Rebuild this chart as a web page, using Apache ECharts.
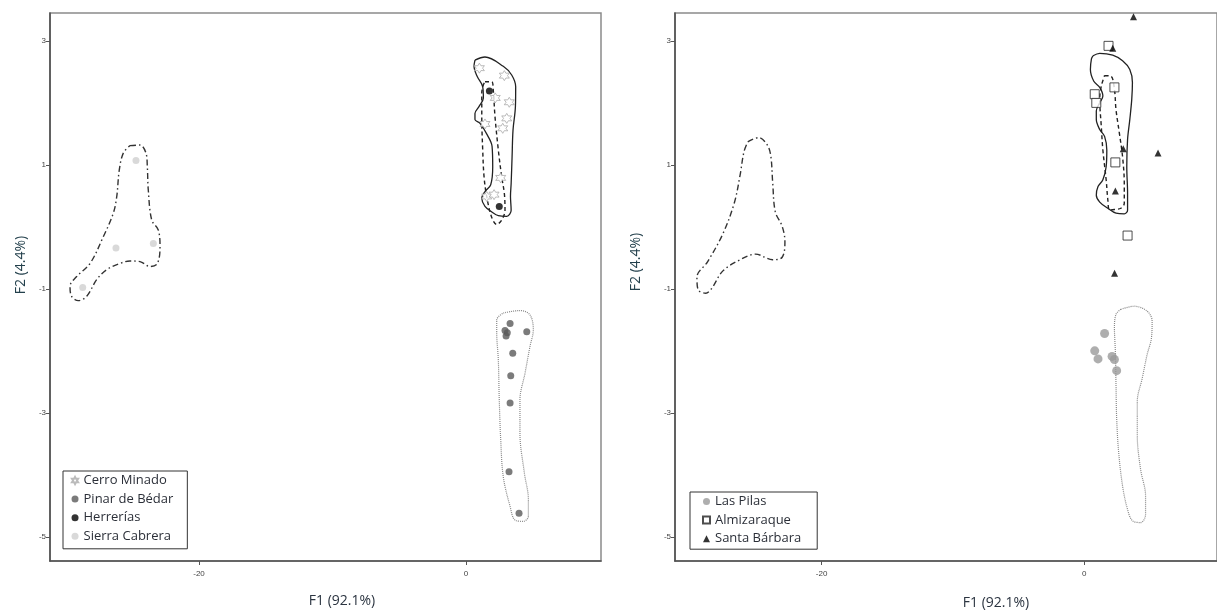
<!DOCTYPE html>
<html>
<head>
<meta charset="utf-8">
<script src="https://cdn.jsdelivr.net/npm/echarts@6/dist/echarts.min.js"></script>
<style>html,body{margin:0;padding:0;background:#fff;}#c{width:1217px;height:615px;}</style>
</head>
<body>
<div id="c"></div>
<script>
// ---- Tick labels ----
const xTicks = [-20, 0];
const yTicks = [-5, -3, -1, 1, 3];

// ---- Left panel groups (F1, F2) ----
const cerroMinado = [[1.0,2.56],[2.87,2.44],[2.19,2.08],[3.24,2.01],[3.05,1.75],[1.42,1.66],[2.75,1.59],[2.6,0.79],[1.55,0.49],[2.1,0.52]];
const pinarDeBedar = [[3.30,-1.56],[2.92,-1.67],[3.09,-1.71],[3.0,-1.76],[4.55,-1.69],[3.50,-2.04],[3.35,-2.40],[3.30,-2.84],[3.22,-3.95],[3.97,-4.62]];
const herrerias = [[1.75,2.19],[2.49,0.33]];
const sierraCabrera = [[-24.72,1.07],[-26.22,-0.34],[-23.42,-0.27],[-28.71,-0.98]];

// ---- Right panel groups ----
const lasPilas = [[1.55,-1.72],[0.80,-2.00],[1.05,-2.13],[2.12,-2.09],[2.30,-2.14],[2.47,-2.32]];
const almizaraque = [[1.85,2.92],[2.30,2.25],[0.80,2.14],[0.92,2.00],[2.37,1.04],[3.30,-0.14]];
const santaBarbara = [[3.75,3.39],[2.17,2.88],[2.97,1.26],[5.62,1.19],[2.37,0.58],[2.31,-0.75]];

// ---- Group outlines (data units) ----
const leftCerroOutline = [[0.67,2.69],[1.42,2.74],[2.79,2.59],[3.42,2.45],[3.72,2.26],[3.70,1.94],[3.52,1.56],[3.45,1.13],[3.38,0.70],[3.33,0.49],[3.38,0.27],[3.05,0.17],[2.42,0.18],[1.93,0.24],[1.42,0.33],[1.18,0.46],[1.42,0.57],[1.85,0.68],[2.0,0.97],[1.95,1.30],[1.60,1.48],[1.05,1.67],[0.67,1.73],[0.67,1.83],[0.97,1.94],[1.30,2.08],[1.25,2.26],[0.85,2.42],[0.60,2.59],[0.67,2.69]];
const leftHerreriasOutline = [[1.42,2.34],[1.93,2.34],[2.04,2.21],[2.17,1.78],[2.42,1.24],[2.67,0.81],[2.87,0.54],[2.92,0.27],[2.67,0.11],[2.30,0.04],[1.93,0.15],[1.55,0.49],[1.35,0.81],[1.25,1.24],[1.18,1.78],[1.18,2.16],[1.30,2.29],[1.42,2.34]];
const leftSierraOutline = [[-25.17,1.31],[-24.42,1.32],[-23.97,1.19],[-23.87,0.97],[-23.80,0.60],[-23.54,0.11],[-23.05,-0.05],[-22.92,-0.32],[-23.12,-0.59],[-23.67,-0.64],[-24.42,-0.56],[-25.17,-0.55],[-25.92,-0.59],[-26.91,-0.69],[-27.66,-0.85],[-28.41,-1.12],[-29.04,-1.19],[-29.54,-1.12],[-29.66,-0.96],[-29.16,-0.80],[-28.16,-0.59],[-27.17,-0.16],[-26.42,0.22],[-26.16,0.49],[-25.97,0.92],[-25.67,1.19],[-25.17,1.31]];
const leftPinarOutline = [[2.79,-1.39],[4.04,-1.35],[4.79,-1.42],[5.04,-1.66],[4.79,-1.93],[4.42,-2.36],[4.04,-2.79],[4.04,-3.33],[4.37,-3.97],[4.67,-4.40],[4.67,-4.67],[4.29,-4.75],[3.67,-4.73],[3.30,-4.51],[2.79,-4.03],[2.60,-3.44],[2.49,-2.79],[2.42,-2.15],[2.30,-1.71],[2.30,-1.50],[2.79,-1.39]];

const rightSolidOutline = [[0.67,2.76],[1.18,2.80],[2.17,2.77],[2.92,2.68],[3.47,2.54],[3.67,2.33],[3.62,2.06],[3.47,1.73],[3.30,1.41],[3.24,0.97],[3.30,0.54],[3.30,0.27],[3.05,0.21],[2.42,0.22],[1.80,0.30],[1.18,0.40],[0.92,0.51],[1.05,0.65],[1.42,0.76],[1.67,0.97],[1.72,1.24],[1.55,1.46],[1.18,1.57],[0.92,1.73],[0.92,1.87],[1.18,2.00],[1.42,2.11],[1.18,2.25],[0.73,2.35],[0.47,2.54],[0.55,2.71],[0.67,2.76]];
const rightDashedOutline = [[1.55,2.44],[2.04,2.43],[2.30,2.22],[2.42,1.89],[2.67,1.52],[2.92,1.13],[3.05,0.70],[3.05,0.38],[2.79,0.30],[2.30,0.28],[1.93,0.27],[1.80,0.43],[1.67,0.76],[1.42,1.24],[1.30,1.62],[1.18,2.06],[1.30,2.27],[1.55,2.44]];
const rightDashDotOutline = [[-25.62,1.37],[-24.80,1.44],[-24.16,1.33],[-23.87,1.15],[-23.72,0.71],[-23.52,0.24],[-23.0,0.01],[-22.79,-0.24],[-23.0,-0.49],[-23.72,-0.53],[-25.03,-0.44],[-26.2,-0.53],[-27.51,-0.71],[-28.39,-1.0],[-28.82,-1.07],[-29.41,-1.01],[-29.49,-0.81],[-28.67,-0.56],[-27.51,-0.11],[-26.64,0.39],[-26.20,0.84],[-25.91,1.21],[-25.62,1.37]];
const rightDottedOutline = [[2.79,-1.33],[3.80,-1.28],[4.79,-1.36],[5.17,-1.52],[5.12,-1.79],[4.79,-2.06],[4.42,-2.44],[4.04,-2.82],[4.04,-3.36],[4.29,-3.91],[4.67,-4.34],[4.67,-4.64],[4.29,-4.77],[3.67,-4.74],[3.30,-4.56],[2.92,-4.18],[2.62,-3.63],[2.47,-3.09],[2.42,-2.55],[2.37,-2.01],[2.30,-1.63],[2.42,-1.41],[2.79,-1.33]];

// ---- Axis ranges / titles ----
const xRange = [-31.16, 10.11];
const yRange = [-5.39, 3.45];
const xTitle = 'F1 (92.1%)';
const yTitle = 'F2 (4.4%)';

const STAR = 'path://M10 0L12.75 5.24L18.66 5L15.5 10L18.66 15L12.75 14.76L10 20L7.25 14.76L1.34 15L4.5 10L1.34 5L7.25 5.24Z';
const FONT = '"Open Sans", "Noto Sans", sans-serif';

function xAxisDef(gi){
  return {
    type:'value', gridIndex:gi, min:xRange[0], max:xRange[1],
    splitLine:{show:false},
    axisLine:{show:true, onZero:false, lineStyle:{color:'#505050', width:1.6}},
    axisTick:{show:true, customValues:xTicks, length:4, lineStyle:{color:'#555'}},
    axisLabel:{customValues:xTicks, fontSize:8, color:'#444', margin:9, fontFamily:'Liberation Sans'}
  };
}
function yAxisDef(gi){
  return {
    type:'value', gridIndex:gi, min:yRange[0], max:yRange[1],
    splitLine:{show:false},
    axisLine:{show:true, onZero:false, lineStyle:{color:'#505050', width:1.6}},
    axisTick:{show:true, customValues:yTicks, length:4, lineStyle:{color:'#555'}},
    axisLabel:{customValues:yTicks, fontSize:8, color:'#444', margin:4, fontFamily:'Liberation Sans'}
  };
}
function outline(name, data, gi, type, color, width){
  return {
    name:name, type:'line', xAxisIndex:gi, yAxisIndex:gi, data:data,
    smooth:0.35, symbol:'none', silent:true, z:1,
    lineStyle:{color:color, width:width, type:type}
  };
}
function pts(name, data, gi, symbol, size, itemStyle){
  return {name:name, type:'scatter', xAxisIndex:gi, yAxisIndex:gi, data:data,
    symbol:symbol, symbolSize:size, itemStyle:itemStyle, z:3};
}

const legendCommon = {
  orient:'vertical', itemWidth:7, itemHeight:7, itemGap:3.6,
  borderColor:'#333', borderWidth:1, borderRadius:0,
  textStyle:{fontSize:13, color:'#2b2f38', fontFamily:FONT, lineHeight:15}
};

const option = {
  animation:false,
  backgroundColor:'#fff',
  grid:[
    {left:50, top:13, width:551, height:548, show:true, borderColor:'#8a8a8a', borderWidth:1.5, containLabel:false},
    {left:675, top:13, width:551, height:548, show:true, borderColor:'#8a8a8a', borderWidth:1.5, containLabel:false}
  ],
  xAxis:[xAxisDef(0), xAxisDef(1)],
  yAxis:[yAxisDef(0), yAxisDef(1)],
  legend:[
    Object.assign({}, legendCommon, {left:63, top:471, padding:[2,14,5,8],
      data:['Cerro Minado','Pinar de Bédar','Herrerías','Sierra Cabrera']}),
    Object.assign({}, legendCommon, {left:690, top:492, padding:[2,16,3,12],
      data:['Las Pilas','Almizaraque','Santa Bárbara']})
  ],
  graphic:[
    {type:'text', x:21, y:265, rotation:Math.PI/2, style:{text:yTitle, font:'14px '+FONT, fill:'#23404c', align:'center', verticalAlign:'middle'}},
    {type:'text', x:636, y:262, rotation:Math.PI/2, style:{text:yTitle, font:'14px '+FONT, fill:'#23404c', align:'center', verticalAlign:'middle'}},
    {type:'text', x:342, y:601, style:{text:xTitle, font:'14px '+FONT, fill:'#2b3440', align:'center', verticalAlign:'middle'}},
    {type:'text', x:996, y:603, style:{text:xTitle, font:'14px '+FONT, fill:'#2b3440', align:'center', verticalAlign:'middle'}}
  ],
  series:[
    outline('o1', leftCerroOutline, 0, 'solid', '#222', 1.3),
    outline('o2', leftHerreriasOutline, 0, [4,3], '#222', 1.4),
    outline('o3', leftSierraOutline, 0, [6,3,1.5,3], '#333', 1.4),
    outline('o4', leftPinarOutline, 0, [1,1], '#888', 1.2),
    pts('Cerro Minado', cerroMinado, 0, STAR, 10, {color:'#fff', borderColor:'#aaa', borderWidth:1}),
    pts('Pinar de Bédar', pinarDeBedar, 0, 'circle', 7, {color:'#5a5a5a'}),
    pts('Herrerías', herrerias, 0, 'circle', 7, {color:'#000'}),
    pts('Sierra Cabrera', sierraCabrera, 0, 'circle', 7, {color:'#cfcfcf'}),

    outline('r1', rightSolidOutline, 1, 'solid', '#222', 1.3),
    outline('r2', rightDashedOutline, 1, [4,3], '#222', 1.4),
    outline('r3', rightDashDotOutline, 1, [6,3,1.5,3], '#333', 1.4),
    outline('r4', rightDottedOutline, 1, [1,1], '#888', 1.2),
    pts('Las Pilas', lasPilas, 1, 'circle', 9, {color:'#9a9a9a'}),
    pts('Almizaraque', almizaraque, 1, 'rect', 9, {color:'#fff', borderColor:'#222', borderWidth:1}),
    pts('Santa Bárbara', santaBarbara, 1, 'triangle', 7, {color:'#000'})
  ]
};

const chart = echarts.init(document.getElementById('c'), null, {renderer:'canvas'});
chart.setOption(option);
</script>
</body>
</html>
